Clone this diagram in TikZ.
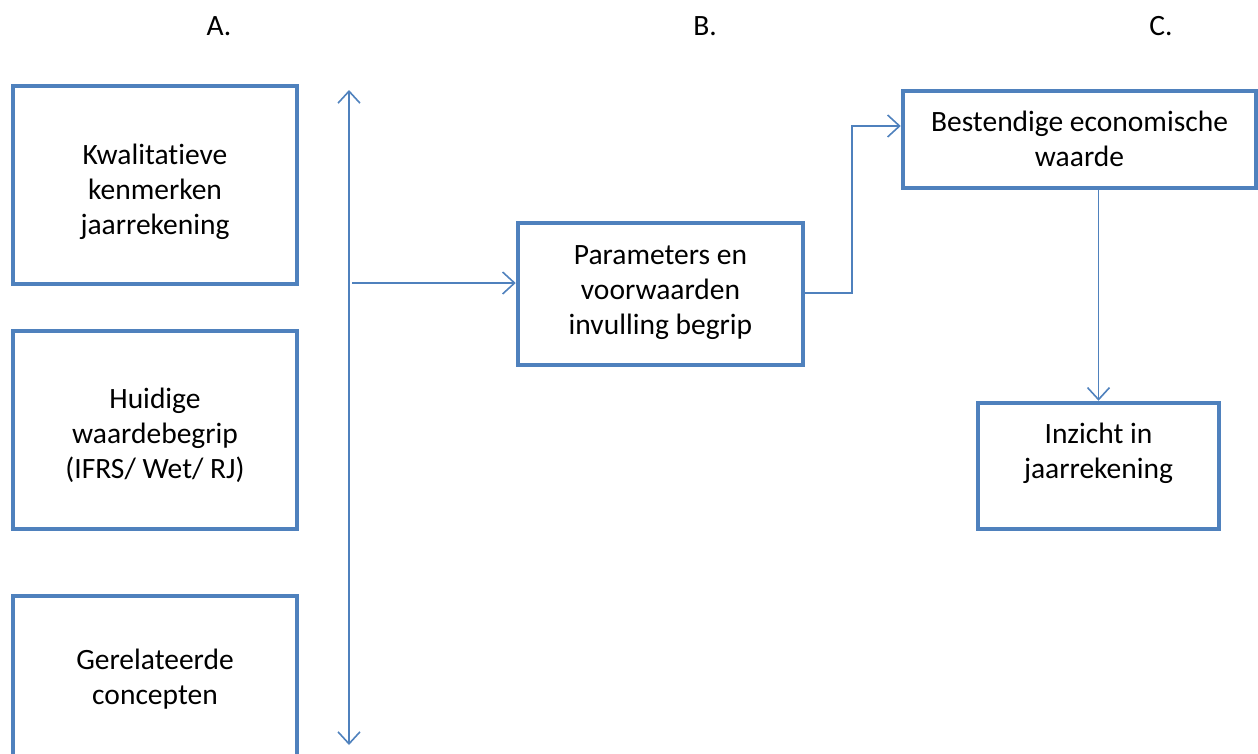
\documentclass[tikz,border=0pt]{standalone}
\usepackage{fontspec}
\setmainfont{Carlito}[Ligatures=NoCommon]
\usetikzlibrary{arrows.meta}
\definecolor{ofblue}{RGB}{79,129,189}
\tikzset{
  box/.style={draw=ofblue, line width=4.5pt, fill=white, inner sep=0pt},
  txt/.style={align=center, inner sep=0pt, font=\fontsize{29.5}{35}\selectfont},
  conn/.style={draw=ofblue, line width=1.6pt, -{Straight Barb[length=12pt,width=22pt,line width=1.6pt]}},
  lab/.style={font=\fontsize{29.5}{35}\selectfont}
}
\begin{document}
\begin{tikzpicture}[x=1pt,y=-1pt]
\useasboundingbox (0,0) rectangle (1258,753);
\clip (0,0) rectangle (1258,753);
\node[lab] (la) at (219,26) {A.};
\node[lab] (lb) at (705,26) {B.};
\node[lab] (lc) at (1161,26) {C.};

\node[box, minimum width=284pt, minimum height=198pt,
  label={[txt, yshift=-7pt]center:{Kwalitatieve\\kenmerken\\jaarrekening}}] (k) at (155,185) {};
\node[box, minimum width=284pt, minimum height=198pt,
  label={[txt, yshift=-5pt]center:{Huidige\\waardebegrip\\(IFRS/ Wet/ RJ)}}] (h) at (155,430) {};
\node[box, minimum width=284pt, minimum height=160pt,
  label={[txt, yshift=-3pt]center:{Gerelateerde\\concepten}}] (g) at (155,676) {};

\node[box, minimum width=285pt, minimum height=142pt,
  label={[txt, yshift=1pt]center:{Parameters en\\voorwaarden\\invulling begrip}}] (p) at (660.5,294) {};
\node[box, minimum width=353pt, minimum height=97pt,
  label={[txt, yshift=1pt]center:{Bestendige economische\\waarde}}] (b) at (1079.5,139.5) {};
\node[box, minimum width=241pt, minimum height=126pt,
  label={[txt, yshift=13pt]center:{Inzicht in\\jaarrekening}}] (i) at (1098.5,466) {};

\coordinate (vt) at (349,90);
\coordinate (vb) at (349,745);
\coordinate (hs) at (352,283);
\draw[conn, {Straight Barb[length=12pt,width=22pt,line width=1.6pt]}-{Straight Barb[length=12pt,width=22pt,line width=1.6pt]}] (vt) -- (vb);
\draw[conn] (hs) -- (hs -| p.west);
\draw[conn] (p.east |- 0,293) -- (852,293) |- (b.west |- 0,126);
\draw[conn] (b.south -| i.north) -- (i.north);
\end{tikzpicture}
\end{document}
